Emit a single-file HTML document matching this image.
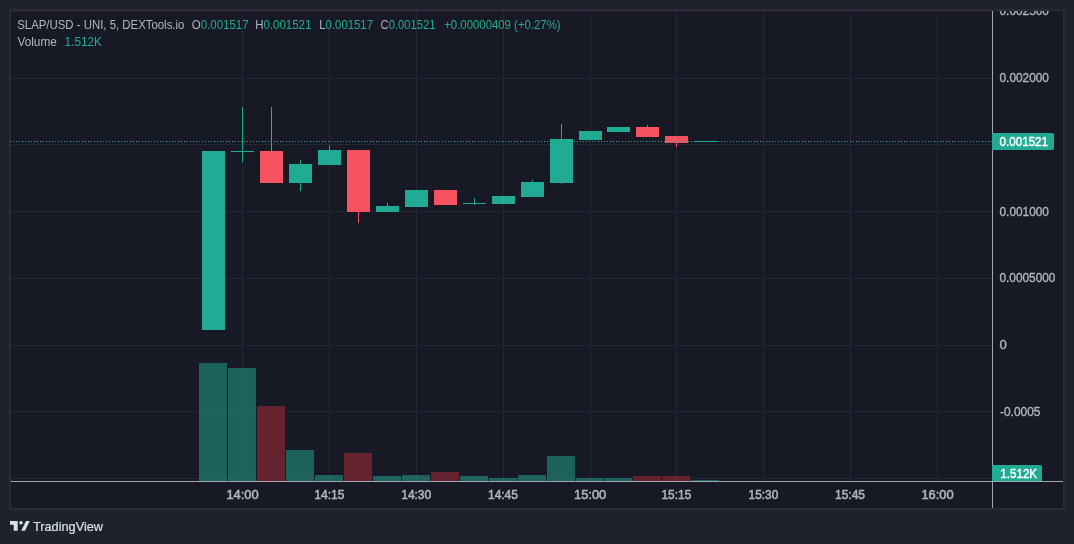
<!DOCTYPE html><html><head><meta charset="utf-8"><title>SLAP/USD chart</title><style>
html,body{margin:0;padding:0;background:#1f222d;}
body{width:1074px;height:544px;overflow:hidden;position:relative;}
svg{position:absolute;left:0;top:0;display:block;will-change:transform;}
text{font-family:"Liberation Sans",Arial,sans-serif;}
</style></head><body>
<svg width="1074" height="544" viewBox="0 0 1074 544">
<g shape-rendering="crispEdges">
<rect x="9" y="9" width="1056" height="501" fill="#2b2b37"/>
<rect x="11" y="11" width="1052" height="497" fill="#171a25"/>
<rect x="11" y="11" width="981" height="1" fill="#272635"/>
<rect x="11" y="78" width="981" height="1" fill="#272635"/>
<rect x="11" y="144" width="981" height="1" fill="#272635"/>
<rect x="11" y="211" width="981" height="1" fill="#272635"/>
<rect x="11" y="278" width="981" height="1" fill="#272635"/>
<rect x="11" y="345" width="981" height="1" fill="#272635"/>
<rect x="11" y="411" width="981" height="1" fill="#272635"/>
<rect x="11" y="478" width="981" height="1" fill="#272635"/>
<rect x="242" y="11" width="1" height="470" fill="#272635"/>
<rect x="329" y="11" width="1" height="470" fill="#272635"/>
<rect x="416" y="11" width="1" height="470" fill="#272635"/>
<rect x="503" y="11" width="1" height="470" fill="#272635"/>
<rect x="590" y="11" width="1" height="470" fill="#272635"/>
<rect x="676" y="11" width="1" height="470" fill="#272635"/>
<rect x="763" y="11" width="1" height="470" fill="#272635"/>
<rect x="850" y="11" width="1" height="470" fill="#272635"/>
<rect x="937" y="11" width="1" height="470" fill="#272635"/>
<rect x="199" y="363" width="28" height="118" fill="rgba(34,171,148,0.49)"/>
<rect x="228" y="368" width="28" height="113" fill="rgba(34,171,148,0.49)"/>
<rect x="257" y="406" width="28" height="75" fill="#65222f"/>
<rect x="286" y="450" width="28" height="31" fill="rgba(34,171,148,0.49)"/>
<rect x="315" y="475" width="28" height="6" fill="rgba(34,171,148,0.49)"/>
<rect x="344" y="453" width="28" height="28" fill="#65222f"/>
<rect x="373" y="476" width="28" height="5" fill="rgba(34,171,148,0.49)"/>
<rect x="402" y="475" width="28" height="6" fill="rgba(34,171,148,0.49)"/>
<rect x="431" y="472" width="28" height="9" fill="#65222f"/>
<rect x="460" y="476" width="28" height="5" fill="rgba(34,171,148,0.49)"/>
<rect x="489" y="478" width="28" height="3" fill="rgba(34,171,148,0.49)"/>
<rect x="518" y="475" width="28" height="6" fill="rgba(34,171,148,0.49)"/>
<rect x="547" y="456" width="28" height="25" fill="rgba(34,171,148,0.49)"/>
<rect x="576" y="478" width="27" height="3" fill="rgba(34,171,148,0.49)"/>
<rect x="604" y="478" width="28" height="3" fill="rgba(34,171,148,0.49)"/>
<rect x="633" y="476" width="28" height="5" fill="#65222f"/>
<rect x="662" y="476" width="28" height="5" fill="#65222f"/>
<rect x="691" y="480" width="28" height="1" fill="rgba(34,171,148,0.49)"/>
<rect x="202" y="151" width="23" height="179" fill="#22ab94"/>
<rect x="242" y="107" width="1" height="44" fill="#22ab94"/>
<rect x="242" y="152" width="1" height="10" fill="#22ab94"/>
<rect x="231" y="151" width="23" height="1" fill="#22ab94"/>
<rect x="271" y="107" width="1" height="44" fill="#f7525f"/>
<rect x="260" y="151" width="23" height="32" fill="#f7525f"/>
<rect x="300" y="160" width="1" height="4" fill="#22ab94"/>
<rect x="300" y="183" width="1" height="8" fill="#22ab94"/>
<rect x="289" y="164" width="23" height="19" fill="#22ab94"/>
<rect x="329" y="145" width="1" height="5" fill="#22ab94"/>
<rect x="318" y="150" width="23" height="15" fill="#22ab94"/>
<rect x="358" y="212" width="1" height="11" fill="#f7525f"/>
<rect x="347" y="150" width="23" height="62" fill="#f7525f"/>
<rect x="387" y="203" width="1" height="3" fill="#22ab94"/>
<rect x="376" y="206" width="23" height="6" fill="#22ab94"/>
<rect x="405" y="190" width="23" height="17" fill="#22ab94"/>
<rect x="434" y="190" width="23" height="15" fill="#f7525f"/>
<rect x="474" y="198" width="1" height="5" fill="#22ab94"/>
<rect x="474" y="204" width="1" height="1" fill="#22ab94"/>
<rect x="463" y="203" width="23" height="1" fill="#22ab94"/>
<rect x="492" y="196" width="23" height="8" fill="#22ab94"/>
<rect x="532" y="180" width="1" height="2" fill="#22ab94"/>
<rect x="521" y="182" width="23" height="15" fill="#22ab94"/>
<rect x="561" y="124" width="1" height="15" fill="#22ab94"/>
<rect x="561" y="183" width="1" height="1" fill="#22ab94"/>
<rect x="550" y="139" width="23" height="44" fill="#22ab94"/>
<rect x="579" y="131" width="23" height="9" fill="#22ab94"/>
<rect x="607" y="127" width="23" height="5" fill="#22ab94"/>
<rect x="647" y="125" width="1" height="2" fill="#f7525f"/>
<rect x="636" y="127" width="23" height="10" fill="#f7525f"/>
<rect x="676" y="143" width="1" height="4" fill="#f7525f"/>
<rect x="665" y="136" width="23" height="7" fill="#f7525f"/>
<rect x="694" y="141" width="23" height="1" fill="#22ab94"/>
<line x1="10" y1="141.5" x2="992" y2="141.5" stroke="#22ab94" stroke-width="1" stroke-dasharray="1 2"/>
<rect x="11" y="481" width="1052" height="1" fill="#a3a6af"/>
<rect x="992" y="11" width="1" height="497" fill="#a3a6af"/>
</g>
<g fill="#b2b5be" font-size="12" stroke="#b2b5be" stroke-width="0.35">
<svg x="993" y="11" width="70" height="470" overflow="hidden"><g transform="translate(-993,-11)"><text x="999.5" y="15" textLength="49.4" lengthAdjust="spacingAndGlyphs">0.002500</text></g></svg>
<text x="999.5" y="82" textLength="49.4" lengthAdjust="spacingAndGlyphs">0.002000</text>
<text x="999.5" y="216" textLength="49.4" lengthAdjust="spacingAndGlyphs">0.001000</text>
<text x="999.5" y="282" textLength="55.9" lengthAdjust="spacingAndGlyphs">0.0005000</text>
<text x="999.5" y="349" textLength="7.3" lengthAdjust="spacingAndGlyphs">0</text>
<text x="1000.0" y="416" textLength="40.4" lengthAdjust="spacingAndGlyphs">-0.0005</text>
</g>
<g fill="#b2b5be" font-size="12.6" text-anchor="middle" stroke="#b2b5be" stroke-width="0.55">
<text x="242.55" y="499" textLength="32.3" lengthAdjust="spacingAndGlyphs">14:00</text>
<text x="329.40" y="499" textLength="30.2" lengthAdjust="spacingAndGlyphs">14:15</text>
<text x="416.20" y="499" textLength="29.9" lengthAdjust="spacingAndGlyphs">14:30</text>
<text x="502.95" y="499" textLength="29.9" lengthAdjust="spacingAndGlyphs">14:45</text>
<text x="590.15" y="499" textLength="32.3" lengthAdjust="spacingAndGlyphs">15:00</text>
<text x="676.40" y="499" textLength="29.8" lengthAdjust="spacingAndGlyphs">15:15</text>
<text x="763.45" y="499" textLength="29.7" lengthAdjust="spacingAndGlyphs">15:30</text>
<text x="850.00" y="499" textLength="30.0" lengthAdjust="spacingAndGlyphs">15:45</text>
<text x="937.55" y="499" textLength="32.3" lengthAdjust="spacingAndGlyphs">16:00</text>
</g>
<path d="M992 133 H1052 A2 2 0 0 1 1054 135 V148 A2 2 0 0 1 1052 150 H992 Z" fill="#22ab94"/>
<text x="999.6" y="146" font-size="12" fill="#fff" stroke="#fff" stroke-width="0.4" textLength="48.4" lengthAdjust="spacingAndGlyphs">0.001521</text>
<path d="M992 465 H1040 A2 2 0 0 1 1042 467 V481 H992 Z" fill="#22ab94"/>
<text x="1000.3" y="478" font-size="12" fill="#fff" stroke="#fff" stroke-width="0.4" textLength="36.8" lengthAdjust="spacingAndGlyphs">1.512K</text>
<g font-size="12.5" stroke-width="0">
<text x="17.2" y="29" textLength="167.2" lengthAdjust="spacingAndGlyphs" fill="#b2b5be" stroke="#b2b5be">SLAP/USD - UNI, 5, DEXTools.io</text>
<text x="191.8" y="29" textLength="56.8" lengthAdjust="spacingAndGlyphs"><tspan fill="#b2b5be" stroke="#b2b5be">O</tspan><tspan fill="#22ab94" stroke="#22ab94">0.001517</tspan></text>
<text x="255.3" y="29" textLength="56.0" lengthAdjust="spacingAndGlyphs"><tspan fill="#b2b5be" stroke="#b2b5be">H</tspan><tspan fill="#22ab94" stroke="#22ab94">0.001521</tspan></text>
<text x="319.3" y="29" textLength="53.7" lengthAdjust="spacingAndGlyphs"><tspan fill="#b2b5be" stroke="#b2b5be">L</tspan><tspan fill="#22ab94" stroke="#22ab94">0.001517</tspan></text>
<text x="380.6" y="29" textLength="55.0" lengthAdjust="spacingAndGlyphs"><tspan fill="#b2b5be" stroke="#b2b5be">C</tspan><tspan fill="#22ab94" stroke="#22ab94">0.001521</tspan></text>
<text x="444.2" y="29" textLength="116.4" lengthAdjust="spacingAndGlyphs" fill="#22ab94" stroke="#22ab94">+0.00000409 (+0.27%)</text>
<text x="17.4" y="46" textLength="39.5" lengthAdjust="spacingAndGlyphs" fill="#b2b5be" stroke="#b2b5be">Volume</text>
<text x="64.6" y="46" textLength="37.3" lengthAdjust="spacingAndGlyphs" fill="#22ab94" stroke="#22ab94">1.512K</text>
</g>
<g fill="#d3e3e6">
<path d="M10 521 H17.7 V530.8 H13.7 V524.8 H10 Z"/>
<circle cx="21" cy="522.7" r="1.8"/>
<path d="M26 521 H29.8 L25 530.8 H21.2 Z"/>
<text x="33" y="531" font-size="13" stroke="#d3e3e6" stroke-width="0.2" textLength="70" lengthAdjust="spacingAndGlyphs">TradingView</text>
</g>
</svg></body></html>
